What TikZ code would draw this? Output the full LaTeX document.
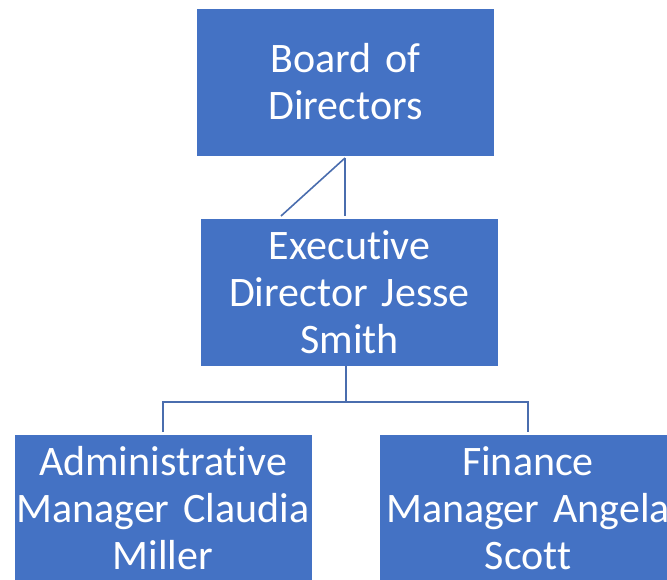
\documentclass[tikz,border=0pt]{standalone}
\usepackage{fontspec}
\setmainfont[Ligatures=NoCommon]{Carlito}
\definecolor{boxblue}{HTML}{4472C4}
\definecolor{lineblue}{HTML}{4A6DAE}
\newcommand{\orgfont}{\fontsize{42}{47}\selectfont\fontdimen2\font=7pt\fontdimen3\font=0pt\fontdimen4\font=0pt}
\begin{document}
\begin{tikzpicture}[x=1pt,y=-1pt,
  orgbox/.style={fill=boxblue, draw=white, line width=0.8pt, text=white, inner sep=0pt,
    minimum height=148pt, text width=296pt, align=center,
    font=\orgfont},
  conn/.style={draw=lineblue, line width=1.6pt}]
\useasboundingbox (0,0) rectangle (667,579);
\clip (0,0) rectangle (667,579);
\node[orgbox, minimum width=298pt] (board) at (345.5,82) {Board of\\Directors};
\node[orgbox, minimum width=298pt] (exec) at (349.5,292) {Executive\\Director Jesse\\Smith};
\node[orgbox, minimum width=298pt] (admin) at (163,508) {Administrative\\Manager Claudia\\Miller};
\node[orgbox, minimum width=298pt] (fin) at (528,508) {Finance\\Manager Angela\\Scott};
% top connector
\coordinate (btop) at (345,158);
\coordinate (bbot) at (345,216);
\coordinate (diag) at (281,216);
\draw[conn] (btop) -- (bbot);
\draw[conn] (btop) -- (diag);
% lower connector
\coordinate (ex) at (346,366);
\coordinate (mid) at (346,402);
\coordinate (la) at (163,402);
\coordinate (lf) at (528,402);
\coordinate (la2) at (163,432);
\coordinate (lf2) at (528,432);
\draw[conn] (ex) -- (mid);
\draw[conn] (la2) -- (la) -- (lf) -- (lf2);
\end{tikzpicture}
\end{document}
